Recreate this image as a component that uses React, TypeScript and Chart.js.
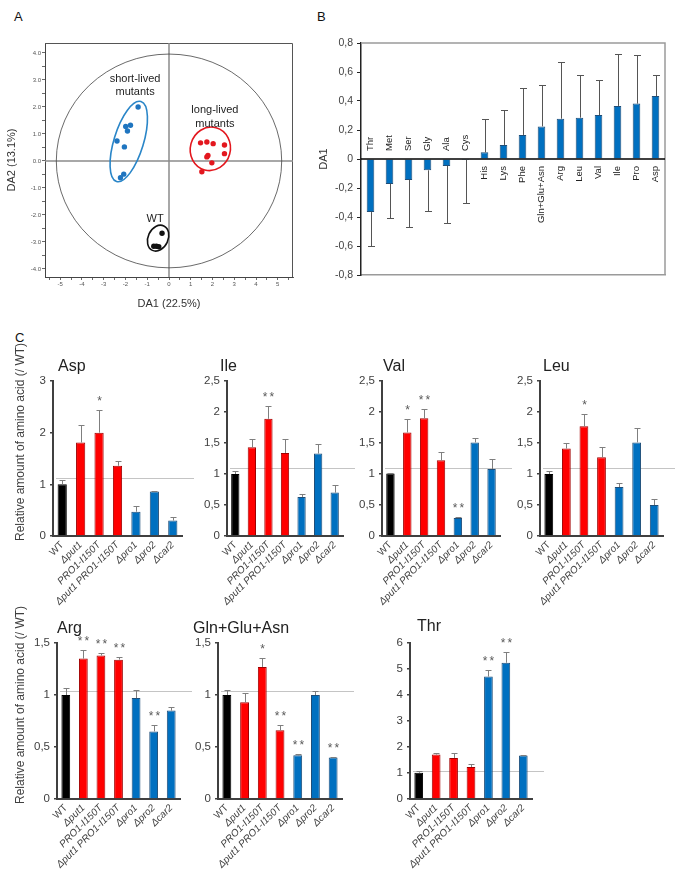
import React, { useEffect, useRef } from "react";
import { Chart, registerables } from "chart.js";

Chart.register(...registerables);

const FONT = "'Liberation Sans', Arial, Helvetica, sans-serif";

// ---------------- Panel A: discriminant analysis scores ----------------
const shortLivedDA1 = [-1.42, -1.99, -1.77, -1.91, -2.39, -2.05, -2.08, -2.23];
const shortLivedDA2 = [2.0, 1.28, 1.32, 1.11, 0.74, 0.52, -0.49, -0.62];
const longLivedDA1 = [1.45, 1.74, 2.03, 2.55, 2.55, 1.79, 1.74, 1.97, 1.51];
const longLivedDA2 = [0.67, 0.7, 0.64, 0.59, 0.27, 0.2, 0.15, -0.07, -0.4];
const wtDA1 = [-0.32, -0.7, -0.58, -0.47];
const wtDA2 = [-2.68, -3.16, -3.16, -3.18];

// group ellipses (data units): centre, half-width, half-height, tilt in degrees
const groupEllipseDA1 = [-1.85, 1.9, -0.5];
const groupEllipseDA2 = [0.72, 0.45, -2.86];
const groupEllipseHalfWidth = [0.68, 0.92, 0.46];
const groupEllipseHalfHeight = [1.55, 0.81, 0.5];
const groupEllipseTilt = [17, 15, 25];
const correlationCircleDA1 = 5.18;
const correlationCircleDA2 = 3.96;

// ---------------- Panel B: DA1 loadings ----------------
const aminoAcids = ["Thr", "Met", "Ser", "Gly", "Ala", "Cys", "His", "Lys", "Phe", "Gln+Glu+Asn", "Arg", "Leu", "Val", "Ile", "Pro", "Asp"];
const da1Loadings = [-0.366, -0.172, -0.145, -0.078, -0.048, -0.007, 0.046, 0.097, 0.166, 0.225, 0.278, 0.285, 0.303, 0.366, 0.382, 0.434];
const da1Errors = [0.234, 0.238, 0.322, 0.282, 0.392, 0.293, 0.232, 0.239, 0.321, 0.288, 0.391, 0.292, 0.242, 0.358, 0.335, 0.143];

// ---------------- Panel C: relative amounts (/ WT) ----------------
const strains = ["WT", "\u0394put1", "PRO1-I150T", "\u0394put1 PRO1-I150T", "\u0394pro1", "\u0394pro2", "\u0394car2"];

const aspValues = [1.0, 1.81, 2.0, 1.36, 0.47, 0.86, 0.3];
const aspErrors = [0.09, 0.34, 0.43, 0.09, 0.12, 0.02, 0.06];
const aspStars = ["", "", "*", "", "", "", ""];

const ileValues = [1.0, 1.43, 1.89, 1.34, 0.63, 1.33, 0.7];
const ileErrors = [0.05, 0.13, 0.2, 0.23, 0.05, 0.15, 0.13];
const ileStars = ["", "", "**", "", "", "", ""];

const valValues = [1.01, 1.67, 1.9, 1.22, 0.29, 1.51, 1.08];
const valErrors = [0.01, 0.21, 0.15, 0.14, 0.01, 0.07, 0.17];
const valStars = ["", "*", "**", "", "**", "", ""];

const leuValues = [1.0, 1.41, 1.77, 1.27, 0.79, 1.51, 0.5];
const leuErrors = [0.05, 0.09, 0.2, 0.17, 0.07, 0.24, 0.09];
const leuStars = ["", "", "*", "", "", "", ""];

const argValues = [1.0, 1.35, 1.38, 1.34, 0.97, 0.65, 0.85];
const argErrors = [0.07, 0.08, 0.02, 0.03, 0.08, 0.06, 0.03];
const argStars = ["", "**", "**", "**", "", "**", ""];

const glxValues = [1.0, 0.93, 1.27, 0.66, 0.42, 1.0, 0.4];
const glxErrors = [0.05, 0.09, 0.09, 0.05, 0.01, 0.04, 0.005];
const glxStars = ["", "", "*", "**", "**", "", "**"];

const thrValues = [1.01, 1.71, 1.58, 1.23, 4.71, 5.24, 1.67];
const thrErrors = [0.08, 0.07, 0.2, 0.13, 0.26, 0.43, 0.02];
const thrStars = ["", "", "", "", "**", "**", ""];

// ---------------- colours ----------------
const BLUE = "#0070c0";
const BLUE_EDGE = "#1f4e79";
const RED = "#ff0000";
const RED_EDGE = "#a00000";
const strainFill = ["#000000", RED, RED, RED, BLUE, BLUE, BLUE];
const strainEdge = ["#000000", RED_EDGE, RED_EDGE, RED_EDGE, BLUE_EDGE, BLUE_EDGE, BLUE_EDGE];

function fmtComma(v: number): string {
  if (Math.abs(v) < 1e-9) return "0";
  const r = Math.round(v * 10) / 10;
  if (Math.abs(r - Math.round(r)) < 1e-9) return String(Math.round(r));
  return r.toFixed(1).replace(".", ",");
}

// ====================== Panel A ======================
function PanelA() {
  const ref = useRef<HTMLCanvasElement>(null);
  useEffect(() => {
    const canvas = ref.current!;
    const extras = {
      id: "aExtras",
      beforeDatasetsDraw(chart: any) {
        const { ctx, chartArea: ca, scales } = chart;
        const x = scales.x, y = scales.y;
        const x0 = x.getPixelForValue(0);
        const y0 = y.getPixelForValue(0);
        ctx.save();
        ctx.strokeStyle = "#555";
        ctx.lineWidth = 1;
        ctx.beginPath();
        ctx.moveTo(ca.left, ca.top + 0.5);
        ctx.lineTo(ca.right - 0.5, ca.top + 0.5);
        ctx.lineTo(ca.right - 0.5, ca.bottom);
        ctx.stroke();
        ctx.strokeStyle = "#8c8c8c";
        ctx.lineWidth = 1.5;
        ctx.beginPath();
        ctx.moveTo(ca.left, y0);
        ctx.lineTo(ca.right, y0);
        ctx.moveTo(x0, ca.top);
        ctx.lineTo(x0, ca.bottom);
        ctx.stroke();
        ctx.strokeStyle = "#444";
        ctx.lineWidth = 0.8;
        ctx.beginPath();
        ctx.ellipse(
          x0,
          y0,
          Math.abs(x.getPixelForValue(correlationCircleDA1) - x0),
          Math.abs(y.getPixelForValue(correlationCircleDA2) - y0),
          0,
          0,
          Math.PI * 2
        );
        ctx.stroke();
        const cols = ["#2a86c8", "#e3171e", "#111111"];
        for (let i = 0; i < groupEllipseDA1.length; i++) {
          const cx = x.getPixelForValue(groupEllipseDA1[i]);
          const cy = y.getPixelForValue(groupEllipseDA2[i]);
          const rx = Math.abs(x.getPixelForValue(groupEllipseDA1[i] + groupEllipseHalfWidth[i]) - cx);
          const ry = Math.abs(y.getPixelForValue(groupEllipseDA2[i] + groupEllipseHalfHeight[i]) - cy);
          ctx.strokeStyle = cols[i];
          ctx.lineWidth = 1.6;
          ctx.beginPath();
          ctx.ellipse(cx, cy, rx, ry, (groupEllipseTilt[i] * Math.PI) / 180, 0, Math.PI * 2);
          ctx.stroke();
        }
        ctx.restore();
      },
      afterDraw(chart: any) {
        const { ctx, chartArea: ca, scales } = chart;
        const x = scales.x, y = scales.y;
        ctx.save();
        ctx.fillStyle = "#222";
        ctx.textAlign = "center";
        ctx.textBaseline = "middle";
        ctx.font = `11px ${FONT}`;
        const put = (t: string, dx: number, dy: number) =>
          ctx.fillText(t, x.getPixelForValue(dx), y.getPixelForValue(dy));
        put("short-lived", -1.56, 3.04);
        put("mutants", -1.56, 2.56);
        put("long-lived", 2.11, 1.89);
        put("mutants", 2.11, 1.37);
        put("WT", -0.64, -2.15);
        ctx.fillStyle = "#333";
        ctx.fillText("DA1 (22.5%)", (ca.left + ca.right) / 2, ca.bottom + 27);
        ctx.save();
        ctx.translate(ca.left - 33, (ca.top + ca.bottom) / 2);
        ctx.rotate(-Math.PI / 2);
        ctx.fillText("DA2 (13.1%)", 0, 0);
        ctx.restore();
        ctx.restore();
      },
    };
    const pts = (xs: number[], ys: number[]) => xs.map((v, i) => ({ x: v, y: ys[i] }));
    const isInt = (v: number) => Math.abs(v - Math.round(v)) < 1e-6;
    const chart = new Chart(canvas, {
      type: "scatter",
      data: {
        datasets: [
          { data: pts(shortLivedDA1, shortLivedDA2), backgroundColor: "#1f75c0", pointRadius: 2.7, pointBorderWidth: 0 },
          { data: pts(longLivedDA1, longLivedDA2), backgroundColor: "#e3171e", pointRadius: 2.7, pointBorderWidth: 0 },
          { data: pts(wtDA1, wtDA2), backgroundColor: "#111111", pointRadius: 2.7, pointBorderWidth: 0 },
        ],
      },
      options: {
        responsive: false,
        animation: false,
        devicePixelRatio: 1,
        layout: { padding: { top: 43, right: 7, left: 0, bottom: 0 } },
        plugins: { legend: { display: false }, tooltip: { enabled: false } },
        scales: {
          x: {
            type: "linear",
            min: -5.7,
            max: 5.7,
            afterFit: (s: any) => {
              s.height = 43;
            },
            grid: { drawOnChartArea: false, drawTicks: true, tickLength: 3, color: "#444", lineWidth: 0.8 },
            border: { display: true, color: "#444", width: 1 },
            ticks: {
              stepSize: 0.5,
              includeBounds: false,
              autoSkip: false,
              maxRotation: 0,
              minRotation: 0,
              padding: 1,
              color: "#555",
              font: { family: FONT, size: 6 },
              callback: (v: any) => (isInt(v) ? String(Math.round(v)) : ""),
            },
          },
          y: {
            type: "linear",
            min: -4.3,
            max: 4.37,
            afterFit: (s: any) => {
              s.width = 45;
            },
            grid: { drawOnChartArea: false, drawTicks: true, tickLength: 3, color: "#444", lineWidth: 0.8 },
            border: { display: true, color: "#444", width: 1 },
            ticks: {
              stepSize: 0.5,
              includeBounds: false,
              autoSkip: false,
              padding: 1,
              color: "#555",
              font: { family: FONT, size: 6 },
              callback: (v: any) => (isInt(v) ? (Math.round(v) === 0 ? "0.0" : Number(v).toFixed(1)) : ""),
            },
          },
        },
      },
      plugins: [extras],
    } as any);
    return () => chart.destroy();
  }, []);
  return <canvas ref={ref} width={300} height={320} style={{ position: "absolute", left: 0, top: 0, width: 300, height: 320 }} />;
}

// ====================== Panel B ======================
function PanelB() {
  const ref = useRef<HTMLCanvasElement>(null);
  useEffect(() => {
    const canvas = ref.current!;
    const extras = {
      id: "bExtras",
      afterDatasetsDraw(chart: any) {
        const { ctx, chartArea: ca, scales } = chart;
        const x = scales.x, y = scales.y;
        const y0 = y.getPixelForValue(0);
        ctx.save();
        ctx.strokeStyle = "#9a9a9a";
        ctx.lineWidth = 1.5;
        ctx.beginPath();
        ctx.moveTo(ca.left, ca.top);
        ctx.lineTo(ca.right, ca.top);
        ctx.lineTo(ca.right, ca.bottom);
        ctx.stroke();
        ctx.strokeStyle = "#555";
        ctx.lineWidth = 1;
        da1Loadings.forEach((v, i) => {
          const px = Math.round(x.getPixelForValue(i)) + 0.5;
          const end = v + (v < 0 ? -1 : 1) * da1Errors[i];
          const pv = y.getPixelForValue(v);
          const pe = Math.round(y.getPixelForValue(end)) + 0.5;
          ctx.beginPath();
          ctx.moveTo(px, pv);
          ctx.lineTo(px, pe);
          ctx.moveTo(px - 3.5, pe);
          ctx.lineTo(px + 3.5, pe);
          ctx.stroke();
        });
        ctx.strokeStyle = "#000";
        ctx.lineWidth = 1.5;
        ctx.beginPath();
        ctx.moveTo(ca.left, y0);
        ctx.lineTo(ca.right, y0);
        ctx.stroke();
        ctx.font = `9.5px ${FONT}`;
        ctx.fillStyle = "#222";
        ctx.textBaseline = "middle";
        aminoAcids.forEach((name, i) => {
          const v = da1Loadings[i];
          const px = x.getPixelForValue(i);
          ctx.save();
          ctx.translate(px, v < 0 ? y0 - 8 : y0 + 7);
          ctx.rotate(-Math.PI / 2);
          ctx.textAlign = v < 0 ? "left" : "right";
          ctx.fillText(name, 0, 0);
          ctx.restore();
        });
        ctx.font = `11px ${FONT}`;
        ctx.fillStyle = "#333";
        ctx.textAlign = "center";
        ctx.save();
        ctx.translate(ca.left - 37, y0);
        ctx.rotate(-Math.PI / 2);
        ctx.fillText("DA1", 0, 0);
        ctx.restore();
        ctx.restore();
      },
    };
    const chart = new Chart(canvas, {
      type: "bar",
      data: {
        labels: aminoAcids,
        datasets: [
          {
            data: da1Loadings,
            backgroundColor: BLUE,
            borderColor: BLUE_EDGE,
            borderWidth: 1,
            barPercentage: 0.4,
            categoryPercentage: 1,
          },
        ],
      },
      options: {
        responsive: false,
        animation: false,
        devicePixelRatio: 1,
        layout: { padding: { top: 43, right: 15, left: 0, bottom: 0 } },
        plugins: { legend: { display: false }, tooltip: { enabled: false } },
        scales: {
          x: {
            afterFit: (s: any) => {
              s.height = 45;
            },
            grid: { display: false, drawTicks: false },
            border: { display: true, color: "#9a9a9a", width: 1.5 },
            ticks: { display: false },
          },
          y: {
            min: -0.8,
            max: 0.8,
            afterFit: (s: any) => {
              s.width = 51;
            },
            grid: { drawOnChartArea: false, drawTicks: true, tickLength: 4, color: "#222", lineWidth: 1 },
            border: { display: true, color: "#222", width: 1.5 },
            ticks: {
              stepSize: 0.2,
              autoSkip: false,
              padding: 4,
              color: "#444",
              font: { family: FONT, size: 10.5 },
              callback: (v: any) => fmtComma(Number(v)),
            },
          },
        },
      },
      plugins: [extras],
    } as any);
    return () => chart.destroy();
  }, []);
  return <canvas ref={ref} width={370} height={320} style={{ position: "absolute", left: 310, top: 0, width: 370, height: 320 }} />;
}

// ====================== Panel C small charts ======================
type SmallProps = {
  title: string;
  values: number[];
  errors: number[];
  stars: string[];
  refLine: number;
  yMax: number;
  yStep: number;
  axisX: number;
  right: number;
  top: number;
  bottom: number;
  titleX: number;
  titleY: number;
};

const YW = 40;
const PT = 12;
const XH = 72;
const PR = 16;

function SmallChart(p: SmallProps) {
  const ref = useRef<HTMLCanvasElement>(null);
  const w = YW + (p.right - p.axisX) + PR;
  const h = PT + (p.bottom - p.top) + XH;
  useEffect(() => {
    const canvas = ref.current!;
    const extras = {
      id: "cExtras",
      beforeDatasetsDraw(chart: any) {
        const { ctx, chartArea: ca, scales } = chart;
        const py = Math.round(scales.y.getPixelForValue(p.refLine)) + 0.5;
        ctx.save();
        ctx.strokeStyle = "#c4c4c4";
        ctx.lineWidth = 1;
        ctx.beginPath();
        ctx.moveTo(ca.left + 3, py);
        ctx.lineTo(ca.right + 12, py);
        ctx.stroke();
        ctx.restore();
      },
      afterDatasetsDraw(chart: any) {
        const { ctx, scales } = chart;
        const x = scales.x, y = scales.y;
        ctx.save();
        p.values.forEach((v, i) => {
          const px = Math.round(x.getPixelForValue(i)) + 0.5;
          const pv = y.getPixelForValue(v);
          const pe = Math.round(y.getPixelForValue(v + p.errors[i])) + 0.5;
          ctx.strokeStyle = "#7f7f7f";
          ctx.lineWidth = 1;
          ctx.beginPath();
          ctx.moveTo(px, pv);
          ctx.lineTo(px, pe);
          ctx.moveTo(px - 3, pe);
          ctx.lineTo(px + 3, pe);
          ctx.stroke();
          if (p.stars[i]) {
            ctx.fillStyle = "#595959";
            ctx.font = `12px ${FONT}`;
            ctx.textAlign = "center";
            ctx.textBaseline = "alphabetic";
            (ctx as any).letterSpacing = "2px";
            ctx.fillText(p.stars[i], px + 1, pe - 5.5);
            (ctx as any).letterSpacing = "0px";
          }
        });
        ctx.restore();
      },
    };
    const chart = new Chart(canvas, {
      type: "bar",
      data: {
        labels: strains,
        datasets: [
          {
            data: p.values,
            backgroundColor: strainFill,
            borderColor: strainEdge,
            borderWidth: 1,
            barPercentage: 0.5,
            categoryPercentage: 1,
          },
        ],
      },
      options: {
        responsive: false,
        animation: false,
        devicePixelRatio: 1,
        layout: { padding: { top: PT, right: PR, left: 0, bottom: 0 } },
        plugins: { legend: { display: false }, tooltip: { enabled: false } },
        scales: {
          x: {
            afterFit: (s: any) => {
              s.height = XH;
            },
            grid: { display: false, drawTicks: false },
            border: { display: true, color: "#404040", width: 2 },
            ticks: {
              autoSkip: false,
              minRotation: 45,
              maxRotation: 45,
              padding: 3,
              color: "#404040",
              font: (c: any) => ({ family: FONT, size: 10, style: c.index === 0 ? "normal" : "italic" }),
            },
          },
          y: {
            min: 0,
            max: p.yMax,
            afterFit: (s: any) => {
              s.width = YW;
            },
            grid: { drawOnChartArea: false, drawTicks: true, tickLength: 3, color: "#404040", lineWidth: 1.5 },
            border: { display: true, color: "#404040", width: 2 },
            ticks: {
              stepSize: p.yStep,
              autoSkip: false,
              padding: 4,
              color: "#404040",
              font: { family: FONT, size: 11.5 },
              callback: (v: any) => fmtComma(Number(v)),
            },
          },
        },
      },
      plugins: [extras],
    } as any);
    return () => chart.destroy();
  }, []);
  return (
    <>
      <canvas
        ref={ref}
        width={w}
        height={h}
        style={{ position: "absolute", left: p.axisX - YW, top: p.top - PT, width: w, height: h }}
      />
      <div
        style={{
          position: "absolute",
          left: p.titleX,
          top: p.titleY - 8,
          fontSize: 16,
          lineHeight: "16px",
          color: "#222",
          whiteSpace: "nowrap",
          fontFamily: FONT,
        }}
      >
        {p.title}
      </div>
    </>
  );
}

function YTitle({ cx, cy, text }: { cx: number; cy: number; text: string }) {
  return (
    <div
      style={{
        position: "absolute",
        left: cx,
        top: cy,
        transform: "translate(-50%, -50%) rotate(-90deg)",
        fontSize: 12,
        lineHeight: "12px",
        color: "#404040",
        whiteSpace: "nowrap",
        fontFamily: FONT,
      }}
    >
      {text}
    </div>
  );
}

function Letter({ x, y, t }: { x: number; y: number; t: string }) {
  return (
    <div style={{ position: "absolute", left: x, top: y, fontSize: 13, lineHeight: "13px", color: "#111", fontFamily: FONT }}>
      {t}
    </div>
  );
}

export default function App() {
  return (
    <div style={{ position: "absolute", left: 0, top: 0, width: 680, height: 878, background: "#fff", overflow: "hidden", fontFamily: FONT }}>
      <Letter x={14} y={10} t="A" />
      <Letter x={317} y={10} t="B" />
      <Letter x={15} y={331} t="C" />
      <PanelA />
      <PanelB />
      <SmallChart title="Asp" values={aspValues} errors={aspErrors} stars={aspStars} refLine={1.13} yMax={3} yStep={1} axisX={53} right={182} top={381} bottom={536} titleX={58} titleY={366} />
      <SmallChart title="Ile" values={ileValues} errors={ileErrors} stars={ileStars} refLine={1.09} yMax={2.5} yStep={0.5} axisX={227} right={343} top={381} bottom={536} titleX={220} titleY={366} />
      <SmallChart title="Val" values={valValues} errors={valErrors} stars={valStars} refLine={1.09} yMax={2.5} yStep={0.5} axisX={382} right={500} top={381} bottom={536} titleX={383} titleY={366} />
      <SmallChart title="Leu" values={leuValues} errors={leuErrors} stars={leuStars} refLine={1.09} yMax={2.5} yStep={0.5} axisX={540} right={663} top={381} bottom={536} titleX={543} titleY={366} />
      <SmallChart title="Arg" values={argValues} errors={argErrors} stars={argStars} refLine={1.04} yMax={1.5} yStep={0.5} axisX={57} right={180} top={643} bottom={799} titleX={57} titleY={628} />
      <SmallChart title="Gln+Glu+Asn" values={glxValues} errors={glxErrors} stars={glxStars} refLine={1.04} yMax={1.5} yStep={0.5} axisX={218} right={342} top={643} bottom={799} titleX={193} titleY={628} />
      <SmallChart title="Thr" values={thrValues} errors={thrErrors} stars={thrStars} refLine={1.06} yMax={6} yStep={1} axisX={410} right={532} top={643} bottom={799} titleX={417} titleY={626} />
      <YTitle cx={20} cy={442} text="Relative amount of amino acid (/ WT)" />
      <YTitle cx={20} cy={705} text="Relative amount of amino acid (/ WT)" />
    </div>
  );
}
